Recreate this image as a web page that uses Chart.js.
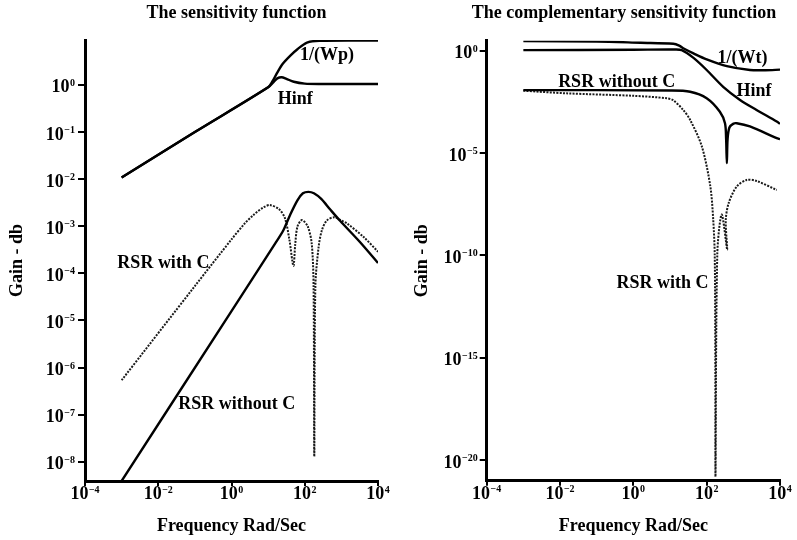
<!DOCTYPE html>
<html><head><meta charset="utf-8">
<script src="https://cdn.jsdelivr.net/npm/chart.js@4"></script>
<style>
html,body{margin:0;padding:0;background:#fff;overflow:hidden;width:797px;height:540px;}
#c1{position:absolute;left:0;top:0;}
#c2{position:absolute;left:400px;top:0;}
</style></head><body>
<canvas id="c1" width="473" height="540"></canvas>
<canvas id="c2" width="448" height="540"></canvas>
<script>
// ---------- shared axes ----------
const xTicks = [1e-4, 1e-2, 1, 1e2, 1e4];
const xMin = 1e-4, xMax = 1e4;

// ---------- left: the sensitivity function ----------
const leftYTicks = [1, 1e-1, 1e-2, 1e-3, 1e-4, 1e-5, 1e-6, 1e-7, 1e-8];
const leftYMin = 3.89e-9, leftYMax = 9.02;

const wpFreq = [1e-3, 0.1, 10, 13.2, 17.4, 25.1, 39.8, 63.1, 115, 251, 1e4];
const wpGain = [0.0108, 0.1, 0.891, 1.2, 1.78, 2.82, 4.17, 5.75, 7.94, 8.7, 8.8];

const hinfLFreq = [1e-3, 0.1, 10, 14.1, 17.8, 23.4, 31.6, 50.1, 100, 263, 1e4];
const hinfLGain = [0.0108, 0.1, 0.891, 1.15, 1.38, 1.46, 1.35, 1.17, 1.07, 1.05, 1.05];

const rsrNoCLFreq = [1e-3, 1, 15.8, 26.3, 39.8, 63.1, 89.1, 126, 178, 282, 490, 933, 3162, 1e4];
const rsrNoCLGain = [3.9e-9, 1.58e-5, 4.37e-4, 8.32e-4, 1.74e-3, 3.55e-3, 5.01e-3, 5.37e-3, 5.01e-3, 3.8e-3, 2.29e-3, 1.29e-3, 4.68e-4, 1.66e-4];

const rsrCLFreq = [1e-3, 0.1, 1, 2.24, 3.98, 7.41, 11.2, 20, 28.8, 38, 49, 55, 63.1, 83.2, 120, 155, 174, 182, 195, 240, 295, 398, 631, 1000, 1413, 4074, 1e4];
const rsrCLGain = [5.37e-7, 5.37e-5, 5.25e-4, 1.12e-3, 1.74e-3, 2.51e-3, 2.82e-3, 2.29e-3, 1.48e-3, 5.25e-4, 1.45e-4, 4.17e-4, 9.77e-4, 1.35e-3, 1.0e-3, 4.27e-4, 5.37e-5, 1.29e-8, 5.37e-5, 3.72e-4, 8.32e-4, 1.32e-3, 1.55e-3, 1.32e-3, 1.15e-3, 5.89e-4, 2.88e-4];

const leftLabelText = ['1/(Wp)', 'Hinf', 'RSR with C', 'RSR without C'];
const leftLabelX = [407, 55, 0.0138, 1.4];
const leftLabelY = [4.3, 0.505, 1.62e-4, 1.62e-7];

// ---------- right: the complementary sensitivity function ----------
const rightYTicks = [1, 1e-5, 1e-10, 1e-15, 1e-20];
const rightYMin = 1e-21, rightYMax = 3.1;

const wtFreq = [1e-3, 0.1, 1.585, 12.3, 17.8, 22.9, 43.7, 100, 355, 1514, 3981, 1e4];
const wtGain = [2.95, 2.82, 2.45, 2.19, 1.78, 1.32, 0.741, 0.38, 0.178, 0.115, 0.112, 0.12];

const hinfRFreq = [1e-3, 1, 12.6, 20.9, 43.7, 100, 282, 813, 2291, 8128, 1e4];
const hinfRGain = [1.07, 1.12, 1.15, 1.07, 0.447, 0.115, 0.0174, 3.98e-3, 1.29e-3, 3.47e-4, 2.69e-4];

const rsrNoCRFreq = [1e-3, 10, 35.5, 100, 229, 316, 339, 355, 372, 417, 525, 661, 1514, 8128, 1e4];
const rsrNoCRGain = [1.2e-2, 1.15e-2, 1.0e-2, 4.79e-3, 1.05e-3, 2.88e-4, 5.01e-5, 3.24e-6, 5.01e-5, 1.78e-4, 2.69e-4, 2.88e-4, 2.0e-4, 5.37e-5, 4.79e-5];

const rsrCRFreq = [1e-3, 0.0151, 1, 8.13, 12.3, 22.9, 35.5, 74.1, 126, 151, 166, 172, 174, 195, 257, 363, 331, 398, 661, 1230, 2291, 8128];
const rsrCRGain = [1.12e-2, 8.32e-3, 6.31e-3, 4.79e-3, 3.8e-3, 1.29e-3, 4.17e-4, 2.09e-5, 2.34e-7, 5.5e-9, 1e-10, 1e-15, 1.6e-21, 1.26e-10, 1e-8, 1.91e-10, 5.0e-9, 3.63e-8, 2.34e-7, 4.9e-7, 4.37e-7, 1.58e-7];

const rightLabelText = ['1/(Wt)', 'Hinf', 'RSR without C', 'RSR with C'];
const rightLabelX = [955, 1950, 0.35, 6.2];
const rightLabelY = [0.44, 0.01, 0.03, 4.2e-12];

// ---------- helpers ----------
const FONT = 'Liberation Serif';
function pts(xs, ys) { return xs.map((x, i) => ({x: x, y: ys[i]})); }
function solid(label, xs, ys) {
  return {label, data: pts(xs, ys), borderColor: '#000', borderWidth: 2.4, pointRadius: 0, tension: 0.3, fill: false};
}
function dotted(label, xs, ys) {
  return {label, data: pts(xs, ys), borderColor: '#1a1a1a', borderWidth: 2, borderDash: [2, 1.3], pointRadius: 0, tension: 0.3, fill: false};
}

const supTicks = {
  id: 'supTicks',
  afterDraw(chart, args, opts) {
    const {ctx, chartArea, scales} = chart;
    const baseFont = `bold 18px "${FONT}"`, expFont = `bold 10px "${FONT}"`;
    const expText = v => { const e = Math.round(Math.log10(v)); return e < 0 ? '\u2212' + (-e) : String(e); };
    ctx.save();
    ctx.fillStyle = '#000';
    ctx.textBaseline = 'alphabetic';
    ctx.textAlign = 'left';
    const drawLabel = (v, left, base) => {
      const ex = expText(v);
      ctx.font = baseFont; const wb = ctx.measureText('10').width;
      ctx.fillText('10', left, base);
      ctx.font = expFont; ctx.fillText(ex, left + wb + 0.5, base - 6.5);
    };
    const width = v => {
      ctx.font = baseFont; const wb = ctx.measureText('10').width;
      ctx.font = expFont; const we = ctx.measureText(expText(v)).width;
      return wb + we + 0.5;
    };
    opts.xTicks.forEach(v => {
      const px = scales.x.getPixelForValue(v);
      drawLabel(v, px - width(v) / 2, chartArea.bottom + 18);
    });
    opts.yTicks.forEach(v => {
      const py = scales.y.getPixelForValue(v);
      drawLabel(v, chartArea.left - opts.yGap - width(v), py + 7.5);
    });
    ctx.restore();
  }
};

const curveLabels = {
  id: 'curveLabels',
  afterDatasetsDraw(chart, args, opts) {
    const {ctx, scales} = chart;
    ctx.save();
    ctx.font = `bold 18px "${FONT}"`;
    ctx.fillStyle = '#000';
    ctx.textAlign = 'center';
    ctx.textBaseline = 'middle';
    opts.text.forEach((t, i) => ctx.fillText(t, scales.x.getPixelForValue(opts.x[i]), scales.y.getPixelForValue(opts.y[i])));
    ctx.restore();
  }
};

function makeChart(id, cfg) {
  const axisFont = {family: FONT, size: 18, weight: 'bold'};
  return new Chart(document.getElementById(id), {
    type: 'line',
    data: {datasets: cfg.datasets},
    options: {
      responsive: false, animation: false, devicePixelRatio: 1,
      layout: {padding: 0},
      plugins: {
        legend: {display: false},
        tooltip: {enabled: false},
        title: {display: true, text: cfg.title, color: '#000', font: axisFont, padding: {top: 3, bottom: cfg.titleGap}},
        supTicks: {xTicks: xTicks, yTicks: cfg.yTicks, yGap: cfg.yGap},
        curveLabels: {text: cfg.labelText, x: cfg.labelX, y: cfg.labelY}
      },
      scales: {
        x: {
          type: 'logarithmic', position: 'bottom', min: xMin, max: xMax,
          afterBuildTicks: s => { s.ticks = xTicks.map(v => ({value: v})); },
          afterFit: s => { s.height = cfg.xHeight; },
          border: {display: true, color: '#000', width: 3},
          grid: {display: true, drawOnChartArea: false, drawTicks: true, tickLength: 5, tickWidth: 2, tickColor: '#000', color: '#000', lineWidth: 2},
          ticks: {display: false},
          title: {display: true, text: 'Frequency Rad/Sec', color: '#000', font: axisFont, padding: {top: 0, bottom: 2.5}}
        },
        y: {
          type: 'logarithmic', position: 'left', min: cfg.yMin, max: cfg.yMax,
          afterBuildTicks: s => { s.ticks = cfg.yTicks.map(v => ({value: v})); },
          afterFit: s => { s.width = cfg.yWidth; },
          border: {display: true, color: '#000', width: 3},
          grid: {display: true, drawOnChartArea: false, drawTicks: true, tickLength: 7, tickWidth: 2, tickColor: '#000', color: '#000', lineWidth: 2},
          ticks: {display: false},
          title: {display: true, text: 'Gain - db', color: '#000', font: axisFont, padding: {top: cfg.yTitlePad, bottom: 0}}
        },
        yr: {
          type: 'linear', position: 'right', display: true,
          afterFit: s => { s.width = cfg.rightPad; },
          ticks: {display: false}, grid: {display: false}, border: {display: false}
        }
      }
    },
    plugins: [supTicks, curveLabels]
  });
}

makeChart('c1', {
  title: 'The sensitivity function',
  titleGap: 15.4, xHeight: 59, yWidth: 85, rightPad: 95, yTitlePad: 7, yGap: 10,
  yMin: leftYMin, yMax: leftYMax, yTicks: leftYTicks,
  labelText: leftLabelText, labelX: leftLabelX, labelY: leftLabelY,
  datasets: [
    solid('1/(Wp)', wpFreq, wpGain),
    solid('Hinf', hinfLFreq, hinfLGain),
    solid('RSR without C', rsrNoCLFreq, rsrNoCLGain),
    dotted('RSR with C', rsrCLFreq, rsrCLGain)
  ]
});

makeChart('c2', {
  title: 'The complementary sensitivity function',
  titleGap: 16.1, xHeight: 59.3, yWidth: 86.7, rightPad: 68, yTitlePad: 12, yGap: 9,
  yMin: rightYMin, yMax: rightYMax, yTicks: rightYTicks,
  labelText: rightLabelText, labelX: rightLabelX, labelY: rightLabelY,
  datasets: [
    solid('1/(Wt)', wtFreq, wtGain),
    solid('Hinf', hinfRFreq, hinfRGain),
    solid('RSR without C', rsrNoCRFreq, rsrNoCRGain),
    dotted('RSR with C', rsrCRFreq, rsrCRGain)
  ]
});
</script></body></html>
